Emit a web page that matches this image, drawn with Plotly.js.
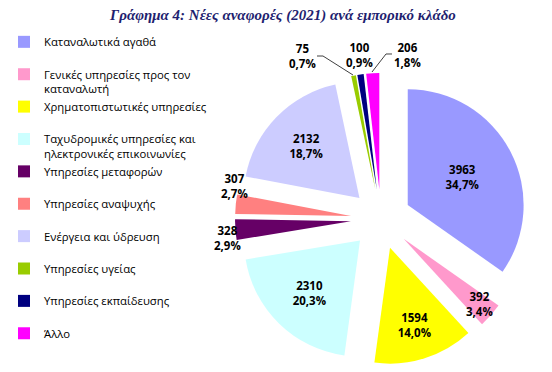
<!DOCTYPE html>
<html>
<head>
<meta charset="utf-8">
<script src="https://cdn.plot.ly/plotly-3.0.1.min.js"></script>
<style>html,body{margin:0;padding:0;background:#fff;}#chart{width:552px;height:372px;}</style>
</head>
<body>
<div id="chart"></div>
<script>
// Categories (legend labels; <br> marks where the original legend wraps)
const categories = [
  "Καταναλωτικά αγαθά",
  "Γενικές υπηρεσίες προς τον<br>καταναλωτή",
  "Χρηματοπιστωτικές υπηρεσίες",
  "Ταχυδρομικές υπηρεσίες και<br>ηλεκτρονικές επικοινωνίες",
  "Υπηρεσίες μεταφορών",
  "Υπηρεσίες αναψυχής",
  "Ενέργεια και ύδρευση",
  "Υπηρεσίες υγείας",
  "Υπηρεσίες εκπαίδευσης",
  "Άλλο"
];
// New reports 2021 per sector
const counts = [3963, 392, 1594, 2310, 328, 307, 2132, 75, 100, 206];
const sliceColors = ["#9999FF", "#FF99CC", "#FFFF00", "#CCFFFF", "#660066",
                     "#FF8080", "#CCCCFF", "#99CC00", "#000080", "#FF00FF"];
const titleText = "Γράφημα 4: Νέες αναφορές (2021) ανά εμπορικό κλάδο";

const W = 552, H = 372;
const total = counts.reduce((a, b) => a + b, 0);
const pctText = v => (v / total * 100).toFixed(1).replace(".", ",") + "%";
const labelText = v => v + "<br>" + pctText(v);

// small slices get their labels placed outside, as in the original (pixel layout positions)
// [index, label centre x, label centre y]
const outsideLabels = [
  [1, 479, 304],
  [4, 227, 238],
  [5, 234, 186],
  [7, 302, 56],
  [8, 359, 55],
  [9, 407, 55]
];
// leader lines (pixel layout positions) for the 75 and 206 labels
const leaderLines = [
  [[317, 56], [323, 56], [353, 75]],
  [[392, 54], [386, 54], [372, 72]]
];
const outsideIdx = outsideLabels.map(o => o[0]);

// pad single-line legend entries with an empty second line for even spacing
const legendLabels = categories.map(c => c.indexOf("<br>") >= 0 ? c : c + "<br>\u00a0");

const labelFont = { family: "Open Sans, sans-serif", size: 11.5, color: "#000", weight: "bold" };

const trace = {
  type: "pie",
  labels: legendLabels,
  values: counts,
  sort: false,
  direction: "clockwise",
  rotation: 0,
  pull: counts.map(() => 0.26),
  marker: { colors: sliceColors, line: { width: 0 } },
  texttemplate: "%{value}<br>%{percent:.1%}",
  textposition: counts.map((v, i) => outsideIdx.indexOf(i) >= 0 ? "none" : "inside"),
  insidetextorientation: "horizontal",
  textfont: labelFont,
  hoverinfo: "label+value+percent",
  domain: { x: [(381 - 146) / W, (381 + 146) / W], y: [(H - 219 - 146) / H, (H - 219 + 146) / H] },
  automargin: false
};

const annotations = outsideLabels.map(([i, lx, ly]) => ({
  xref: "paper", yref: "paper", x: lx / W, y: 1 - ly / H,
  xanchor: "center", yanchor: "middle",
  text: labelText(counts[i]), showarrow: false, font: labelFont
}));

const shapes = leaderLines.map(pts => ({
  type: "path", xref: "paper", yref: "paper",
  path: pts.map((p, k) => (k ? "L" : "M") + (p[0] / W).toFixed(5) + "," + (1 - p[1] / H).toFixed(5)).join(" "),
  line: { color: "#404040", width: 1 }
}));

const layout = {
  width: W, height: H,
  margin: { l: 0, r: 0, t: 0, b: 0 },
  paper_bgcolor: "#fff",
  separators: ",.",
  title: {
    text: "<b><i>" + titleText + "</i></b>",
    x: 283 / W, xanchor: "center",
    y: 1 - 15 / H, yanchor: "middle",
    font: { family: "Liberation Serif, serif", size: 15, color: "#1F1F70" }
  },
  showlegend: true,
  legend: {
    x: 4 / W, xanchor: "left",
    y: 1 - 28 / H, yanchor: "top",
    valign: "top",
    font: { family: "Open Sans, sans-serif", size: 11.3, color: "#000" },
    bgcolor: "rgba(0,0,0,0)",
    traceorder: "normal"
  },
  annotations: annotations,
  shapes: shapes
};

Plotly.newPlot("chart", [trace], layout, { displayModeBar: false, staticPlot: true });
</script>
</body>
</html>
